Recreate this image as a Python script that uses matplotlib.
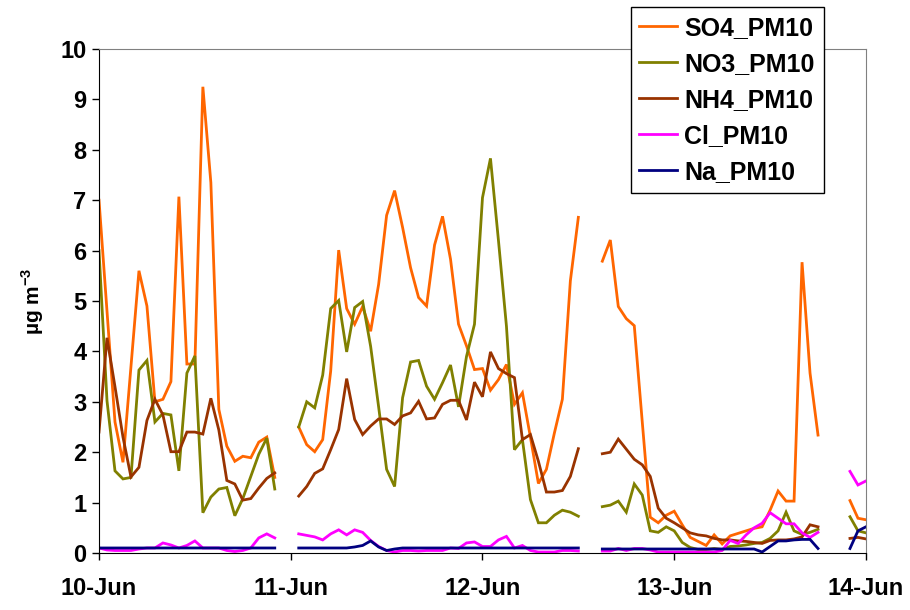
import numpy as np
import matplotlib
matplotlib.use("Agg")
import matplotlib.pyplot as plt

plt.rcParams['font.family'] = ['Liberation Sans', 'DejaVu Sans']
plt.rcParams['font.weight'] = 'bold'
plt.rcParams['mathtext.fontset'] = 'custom'
plt.rcParams['mathtext.rm'] = 'Liberation Sans:bold'
plt.rcParams['mathtext.bf'] = 'Liberation Sans:bold'

N = None
# hourly values, hour 0 = 10-Jun 00:00 ... hour 96 = 14-Jun 00:00 (None = no data)
so4 = [7.0, 4.8, 2.6, 1.8, 3.7, 5.6, 4.9, 3.0, 3.05, 3.4, 7.07, 3.75, 3.75, 9.25, 7.35, 2.85,
       2.12, 1.82, 1.92, 1.89, 2.2, 2.3, 1.5, N, N,
       2.5, 2.15, 2.01, 2.25, 3.61, 6.01, 4.85, 4.54, 4.89, 4.4, 5.33, 6.7, 7.19, 6.46, 5.66,
       5.07, 4.9, 6.11, 6.68, 5.83, 4.54, 4.11, 3.64, 3.66, 3.23, 3.44, 3.74, 2.95, 3.18, 2.3,
       1.38, 1.66, 2.38, 3.05, 5.4, 6.66, N, N,
       5.79, 6.21, 4.89, 4.65, 4.51, 2.6, 0.71, 0.6, 0.75, 0.83, 0.56, 0.31, 0.23, 0.15, 0.36,
       0.18, 0.34, 0.39, 0.44, 0.49, 0.52, 0.85, 1.23, 1.03, 1.03, 5.77, 3.57, 2.34, N, N, N,
       1.04, 0.69, 0.66]
no3 = [6.0, 3.02, 1.63, 1.47, 1.5, 3.63, 3.82, 2.6, 2.77, 2.74, 1.63, 3.57, 3.91, 0.8, 1.11,
       1.27, 1.3, 0.74, 1.08, 1.52, 1.96, 2.28, 1.27, N, N,
       2.5, 3.0, 2.88, 3.53, 4.85, 5.01, 3.99, 4.87, 4.99, 4.1, 2.9, 1.66, 1.32, 3.08, 3.79,
       3.82, 3.31, 3.05, 3.38, 3.73, 2.9, 3.9, 4.54, 7.05, 7.83, 6.2, 4.5, 2.05, 2.25, 1.06,
       0.6, 0.6, 0.75, 0.85, 0.81, 0.73, N, N,
       0.92, 0.95, 1.03, 0.81, 1.37, 1.15, 0.44, 0.41, 0.52, 0.44, 0.21, 0.11, 0.07, 0.07, 0.09,
       0.07, 0.13, 0.14, 0.16, 0.19, 0.21, 0.29, 0.44, 0.81, 0.44, 0.37, 0.41, 0.47, N, N, N,
       0.72, 0.44, 0.4]
nh4 = [2.4, 4.27, 3.3, 2.3, 1.51, 1.7, 2.63, 3.05, 2.74, 2.01, 2.01, 2.4, 2.4, 2.36, 3.07,
       2.44, 1.44, 1.37, 1.05, 1.08, 1.29, 1.48, 1.59, N, N,
       1.13, 1.32, 1.58, 1.67, 2.05, 2.45, 3.46, 2.65, 2.35, 2.52, 2.66, 2.66, 2.55, 2.72, 2.78,
       3.01, 2.66, 2.68, 2.95, 3.03, 3.03, 2.64, 3.39, 3.1, 3.99, 3.66, 3.56, 3.48, 2.25, 2.35,
       1.82, 1.21, 1.21, 1.24, 1.52, 2.07, N, N,
       1.97, 2.0, 2.26, 2.06, 1.86, 1.75, 1.52, 0.89, 0.69, 0.6, 0.5, 0.4, 0.36, 0.34, 0.29,
       0.26, 0.26, 0.24, 0.23, 0.21, 0.19, 0.25, 0.26, 0.26, 0.28, 0.32, 0.56, 0.52, N, N, N,
       0.29, 0.31, 0.28]
cl = [0.1, 0.06, 0.05, 0.05, 0.05, 0.08, 0.1, 0.1, 0.2, 0.16, 0.1, 0.15, 0.24, 0.1, 0.1,
      0.1, 0.05, 0.03, 0.05, 0.1, 0.3, 0.38, 0.3, N, N,
      0.38, 0.35, 0.32, 0.26, 0.38, 0.46, 0.36, 0.46, 0.41, 0.25, 0.13, 0.05, 0.02, 0.05, 0.05,
      0.04, 0.05, 0.05, 0.05, 0.1, 0.09, 0.2, 0.22, 0.13, 0.13, 0.26, 0.33, 0.1, 0.15, 0.05,
      0.02, 0.02, 0.02, 0.05, 0.05, 0.04, N, N,
      0.04, 0.04, 0.09, 0.05, 0.09, 0.09, 0.06, 0.02, 0.02, 0.02, 0.02, 0.02, 0.02, 0.02, 0.02,
      0.05, 0.25, 0.19, 0.36, 0.5, 0.59, 0.8, 0.69, 0.58, 0.58, 0.4, 0.31, 0.41, N, N, N,
      1.62, 1.35, 1.43]
na = [0.1, 0.1, 0.1, 0.1, 0.1, 0.1, 0.1, 0.1, 0.1, 0.1, 0.1, 0.1, 0.1, 0.1, 0.1,
      0.1, 0.1, 0.1, 0.1, 0.1, 0.1, 0.1, 0.1, N, N,
      0.1, 0.1, 0.1, 0.1, 0.1, 0.1, 0.1, 0.12, 0.15, 0.24, 0.12, 0.05, 0.08, 0.1, 0.1,
      0.1, 0.1, 0.1, 0.1, 0.1, 0.1, 0.1, 0.1, 0.1, 0.1, 0.1, 0.1, 0.1, 0.1, 0.1,
      0.1, 0.1, 0.1, 0.1, 0.1, 0.1, N, N,
      0.08, 0.08, 0.08, 0.08, 0.08, 0.08, 0.08, 0.08, 0.08, 0.08, 0.08, 0.08, 0.08, 0.08, 0.08,
      0.08, 0.08, 0.08, 0.08, 0.08, 0.02, 0.13, 0.24, 0.24, 0.26, 0.27, 0.27, 0.09, N, N, N,
      0.09, 0.44, 0.52]

day_labels = ['10-Jun', '11-Jun', '12-Jun', '13-Jun', '14-Jun']
series = [('SO4_PM10', so4, '#FF6600'),
          ('NO3_PM10', no3, '#808000'),
          ('NH4_PM10', nh4, '#993300'),
          ('Cl_PM10', cl, '#FF00FF'),
          ('Na_PM10', na, '#000080')]

hours = np.arange(len(so4))

fig = plt.figure(figsize=(9.1, 6.1), dpi=100)
ax = fig.add_axes([0.1088, 0.0934, 0.8428, 0.8263])

for name, vals, col in series:
    y = np.array([np.nan if v is None else v for v in vals], dtype=float)
    ax.plot(hours, y, color=col, lw=2.0, label=name, solid_joinstyle='miter')

ax.set_xlim(0, 96)
ax.set_ylim(0, 10)
ax.set_xticks(np.arange(0, 97, 24))
ax.set_xticklabels(day_labels)
ax.set_yticks(np.arange(0, 11, 1))
ax.tick_params(axis='both', direction='out', labelsize=17, length=5, width=1)
ax.tick_params(axis='x', pad=12)
ax.tick_params(axis='y', pad=4)
for lab in ax.get_xticklabels() + ax.get_yticklabels():
    lab.set_fontweight('bold')

ax.spines['left'].set_color('black')
ax.spines['bottom'].set_color('black')
ax.spines['top'].set_color('#808080')
ax.spines['right'].set_color('#808080')

ax.set_ylabel('µg m$^{-3}$', fontsize=15, fontweight='bold', labelpad=10)

leg = fig.legend(loc='upper left', bbox_to_anchor=(0.693, 0.9885), fontsize=18,
                 frameon=True, fancybox=False, edgecolor='black', framealpha=1,
                 handlelength=1.5, handletextpad=0.3, labelspacing=0.48,
                 borderpad=0.35, borderaxespad=0)
leg.get_frame().set_linewidth(1.0)
for t in leg.get_texts():
    t.set_fontweight('bold')

fig.savefig('out.png', dpi=100)
